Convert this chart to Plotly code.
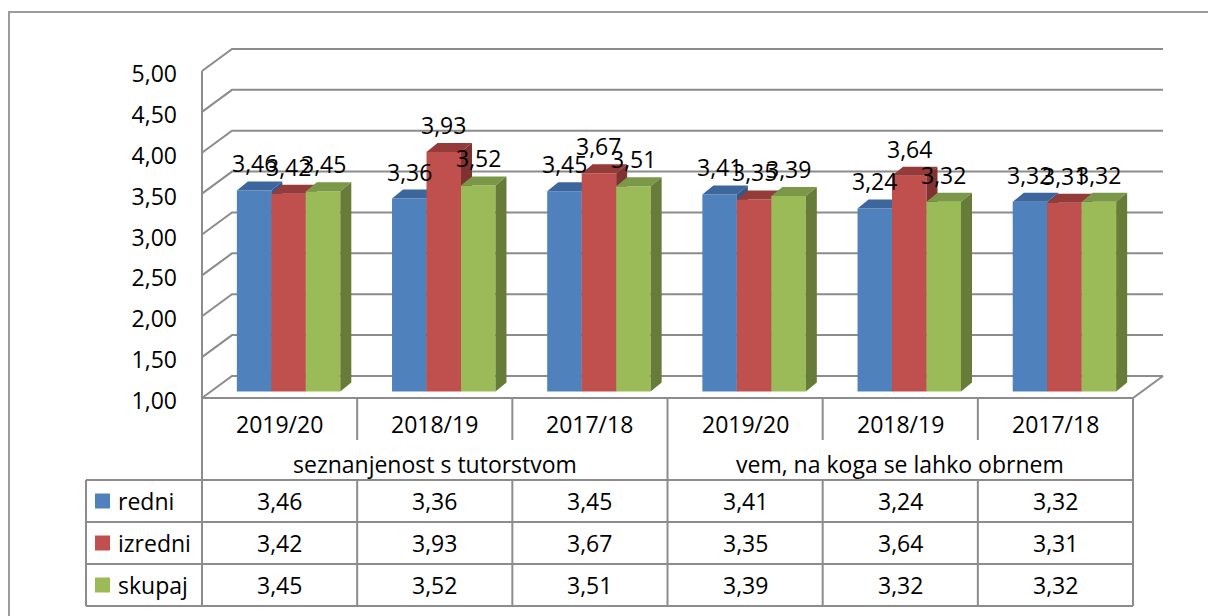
import plotly.graph_objects as go

# ---------------- data ----------------
categories = ["2019/20", "2018/19", "2017/18", "2019/20", "2018/19", "2017/18"]
groups = ["seznanjenost s tutorstvom", "vem, na koga se lahko obrnem"]
series_names = ["redni", "izredni", "skupaj"]
redni = [3.46, 3.36, 3.45, 3.41, 3.24, 3.32]
izredni = [3.42, 3.93, 3.67, 3.35, 3.64, 3.31]
skupaj = [3.45, 3.52, 3.51, 3.39, 3.32, 3.32]
tick_vals = [1.0, 1.5, 2.0, 2.5, 3.0, 3.5, 4.0, 4.5, 5.0]

series_values = [redni, izredni, skupaj]
front_cols = ["#4F81BD", "#C0504D", "#9BBB59"]
top_cols = ["#3D679C", "#953B39", "#7A9848"]
side_cols = ["#33588A", "#7F3230", "#677C38"]
grid_col = "#8C8C8C"
FONT = "Open Sans"
FS = 23

# ---------------- geometry (screen pixels) ----------------
SCR_W, SCR_H = 1216, 616
OFF = 8                     # page body margin
W, H = SCR_W - OFF, SCR_H - OFF
PX_L, PX_R = 200, 1165      # plot area in screen pixels
PY_T, PY_B = 46, 400
X0PX = 202                  # pixel of x = -0.5 (front wall left)
Y1PX = 398                  # pixel of value 1.00 on front plane
XS = 155.17                 # px per category
YS = 81.75                  # px per value unit

x_range = [-0.5 - (X0PX - PX_L) / XS, -0.5 + (PX_R - X0PX) / XS]
y_range = [1 - (PY_B - Y1PX) / YS, 1 + (Y1PX - PY_T) / YS]

DXB, DYB = 30 / XS, 22 / YS          # back wall depth
DXBAR, DYBAR = 9 / XS, 6.5 / YS      # bar position depth
DX, DY = 11 / XS, 9 / YS             # bar thickness depth
BW = (2 / 3) / 3                     # bar width


def pxp(px):
    return (px - PX_L) / (PX_R - PX_L)


def pyp(py):
    return (PY_B - py) / (PY_B - PY_T)


fig = go.Figure()

# ---------------- walls / gridlines ----------------
n = len(categories)
gx, gy = [], []
for v in tick_vals:
    gx += [-0.5, -0.5 + DXB, n - 0.5 + DXB, None]
    gy += [v, v + DYB, v + DYB, None]
gx += [-0.5, n - 0.5, n - 0.5 + DXB, None, -0.5, -0.5]
gy += [1, 1, 1 + DYB, None, 1, tick_vals[-1]]
fig.add_trace(go.Scatter(x=gx, y=gy, mode="lines",
                         line=dict(color=grid_col, width=2),
                         hoverinfo="skip", showlegend=False))

# ---------------- 3D bars ----------------
for j, vals in enumerate(series_values):
    fx, fy, tx, ty, sx, sy = [], [], [], [], [], []
    for i, v in enumerate(vals):
        x0 = i - 1 / 3 + j * BW + DXBAR
        x1 = x0 + BW
        y0 = 1 + DYBAR
        y1 = v + DYBAR
        fx += [x0, x1, x1, x0, x0, None]
        fy += [y0, y0, y1, y1, y0, None]
        tx += [x0, x1, x1 + DX, x0 + DX, x0, None]
        ty += [y1, y1, y1 + DY, y1 + DY, y1, None]
        sx += [x1, x1 + DX, x1 + DX, x1, x1, None]
        sy += [y0, y0 + DY, y1 + DY, y1, y0, None]
    for xs, ys, col in ((fx, fy, front_cols[j]), (tx, ty, top_cols[j]), (sx, sy, side_cols[j])):
        fig.add_trace(go.Scatter(x=xs, y=ys, mode="lines", fill="toself",
                                 fillcolor=col, line=dict(width=0, color=col),
                                 hoverinfo="skip", showlegend=False))

annotations = []
txt_font = dict(family=FONT, size=FS, color="black")
# data labels
for j, vals in enumerate(series_values):
    for i, v in enumerate(vals):
        xc = i - 1 / 3 + j * BW + DXBAR + BW / 2
        annotations.append(dict(x=xc, y=v + DYBAR, xref="x", yref="y",
                                xanchor="center", yanchor="middle",
                                text=f"{v:.2f}".replace(".", ","), showarrow=False,
                                yshift=27, font=txt_font))

# ---------------- data table ----------------
shapes = []
line_style = dict(color=grid_col, width=2)
col_px = [X0PX + k * XS for k in range(n + 1)]
row_top = 480
row_h = 42
rows_px = [row_top + r * row_h for r in range(len(series_names) + 1)]
legend_left = 86
cat_row_bottom = 440


def hline(xa, xb, y):
    shapes.append(dict(type="line", xref="paper", yref="paper",
                       x0=pxp(xa), x1=pxp(xb), y0=pyp(y), y1=pyp(y), line=line_style))


def vline(x, ya, yb):
    shapes.append(dict(type="line", xref="paper", yref="paper",
                       x0=pxp(x), x1=pxp(x), y0=pyp(ya), y1=pyp(yb), line=line_style))


for k, cx in enumerate(col_px):
    if k in (0, n // 2, n):
        vline(cx, Y1PX, rows_px[-1])
    else:
        vline(cx, Y1PX, cat_row_bottom)
        vline(cx, rows_px[0], rows_px[-1])
for r, ry in enumerate(rows_px):
    hline(legend_left, col_px[-1], ry)
vline(legend_left, rows_px[0], rows_px[-1])


def ann(px, py, text, xanchor="center"):
    annotations.append(dict(x=pxp(px), y=pyp(py), xref="paper", yref="paper",
                            xanchor=xanchor, yanchor="middle", text=text,
                            showarrow=False, font=txt_font))


for i, c in enumerate(categories):
    ann((col_px[i] + col_px[i + 1]) / 2, 424, c)
for g, name in enumerate(groups):
    ann((col_px[g * 3] + col_px[g * 3 + 3]) / 2, 464, name)
for r, (name, vals) in enumerate(zip(series_names, series_values)):
    cy = rows_px[r] + row_h / 2
    shapes.append(dict(type="rect", xref="paper", yref="paper",
                       x0=pxp(95), x1=pxp(110), y0=pyp(cy - 7.5), y1=pyp(cy + 7.5),
                       fillcolor=front_cols[r], line=dict(width=0)))
    ann(116, cy, name, xanchor="left")
    for i, v in enumerate(vals):
        ann((col_px[i] + col_px[i + 1]) / 2, cy, f"{v:.2f}".replace(".", ","))

# outer chart border
shapes.append(dict(type="rect", xref="paper", yref="paper",
                   x0=pxp(9), x1=pxp(1240), y0=pyp(12), y1=pyp(640),
                   line=dict(color="#9C9C9C", width=2), fillcolor="rgba(0,0,0,0)"))

fig.update_layout(
    width=W, height=H,
    margin=dict(l=PX_L - OFF, r=SCR_W - PX_R, t=PY_T - OFF, b=SCR_H - PY_B, pad=0),
    paper_bgcolor="white", plot_bgcolor="white",
    separators=",.",
    showlegend=False,
    xaxis=dict(range=x_range, visible=False, fixedrange=True),
    yaxis=dict(range=y_range, tickvals=tick_vals, tickformat=".2f",
               showgrid=False, zeroline=False, showline=False, ticks="",
               ticklabelstandoff=22, ticklabelshift=3,
               tickfont=txt_font, fixedrange=True),
    shapes=shapes,
    annotations=annotations,
)

fig.write_html("out.html")
